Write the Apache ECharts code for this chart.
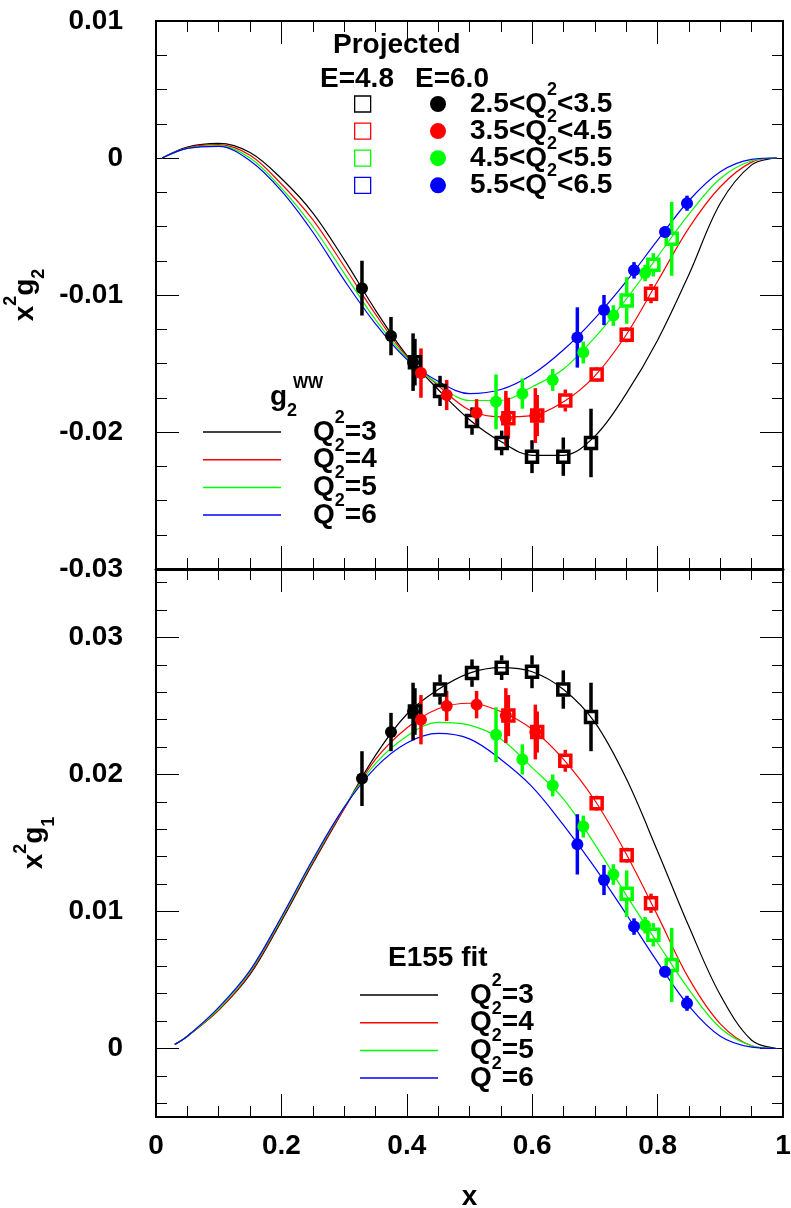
<!DOCTYPE html>
<html>
<head>
<meta charset="utf-8">
<script src="https://cdn.jsdelivr.net/npm/echarts@6/dist/echarts.min.js"></script>
<style>
html, body { margin: 0; padding: 0; background: #fff; }
#chart { width: 791px; height: 1208px; }
</style>
</head>
<body>
<div id="chart"></div>
<script>
// ---- curves: g2 Wandzura-Wilczek (top) ----
const xGridG2 = [0.01, 0.05, 0.1, 0.15, 0.2, 0.25, 0.3, 0.35, 0.4, 0.45, 0.5, 0.55, 0.6, 0.65, 0.7, 0.75, 0.8, 0.85, 0.9, 0.95, 0.99];
const g2wwQ3 = [0, 0.0008, 0.00107, 0.0004, -0.0015, -0.0040, -0.0074, -0.0111, -0.0144, -0.0169, -0.0191, -0.0207, -0.0217, -0.0217, -0.0203, -0.0172, -0.0133, -0.0085, -0.0033, -0.0005, 0];
const g2wwQ4 = [0, 0.00075, 0.00098, 0.0002, -0.0019, -0.0045, -0.0079, -0.0114, -0.0145, -0.0166, -0.0184, -0.0189, -0.0188, -0.0178, -0.0159, -0.0129, -0.0090, -0.0051, -0.0021, -0.0003, 0];
const g2wwQ5 = [0, 0.0007, 0.0009, 0.0000, -0.0022, -0.0050, -0.0084, -0.0118, -0.0146, -0.0165, -0.0177, -0.0177, -0.0167, -0.0154, -0.0131, -0.0103, -0.0072, -0.0041, -0.0015, -0.0002, 0];
const g2wwQ6 = [0, 0.0007, 0.00085, -0.0002, -0.0024, -0.0054, -0.0089, -0.0121, -0.0147, -0.0163, -0.0172, -0.0169, -0.0158, -0.0140, -0.0117, -0.0090, -0.0060, -0.0031, -0.0010, -0.0001, 0];

// ---- curves: E155 fit of g1 (bottom) ----
const xGridG1 = [0.03, 0.05, 0.1, 0.15, 0.2, 0.25, 0.3, 0.35, 0.4, 0.45, 0.5, 0.55, 0.6, 0.65, 0.7, 0.75, 0.8, 0.85, 0.9, 0.95, 0.99];
const g1fitQ3 = [0.0003, 0.0009, 0.0028, 0.0054, 0.0093, 0.0135, 0.0175, 0.0214, 0.0244, 0.0262, 0.0274, 0.0278, 0.0275, 0.0262, 0.0238, 0.0197, 0.0144, 0.0089, 0.0039, 0.0006, 0];
const g1fitQ4 = [0.0003, 0.0009, 0.0028, 0.0055, 0.0094, 0.0136, 0.0175, 0.0211, 0.0234, 0.0248, 0.0252, 0.0246, 0.0233, 0.0211, 0.0181, 0.0142, 0.0097, 0.0051, 0.0018, 0.0002, 0];
const g1fitQ5 = [0.0003, 0.0009, 0.0029, 0.0056, 0.0095, 0.0137, 0.0176, 0.0208, 0.0228, 0.0238, 0.0236, 0.0226, 0.0205, 0.0182, 0.0149, 0.0112, 0.0077, 0.0043, 0.0015, 0.0002, 0];
const g1fitQ6 = [0.0003, 0.0009, 0.0030, 0.0057, 0.0096, 0.0138, 0.0176, 0.0205, 0.0223, 0.0230, 0.0226, 0.0211, 0.0191, 0.0163, 0.0132, 0.0098, 0.0063, 0.0031, 0.0009, 0.0001, 0];

// ---- projected points, E=6.0 (circles) ----
const bin1CircX = [0.3285, 0.3748, 0.410];
const bin1CircG2 = [-0.0095, -0.0130, -0.0149];
const bin1CircG1 = [0.0197, 0.0231, 0.0246];
const bin1CircErr = [0.0020, 0.0014, 0.0021];
const bin2CircX = [0.4226, 0.4636, 0.5113, 0.558, 0.605];
const bin2CircG2 = [-0.0157, -0.0173, -0.0186, -0.0190, -0.0188];
const bin2CircG1 = [0.0240, 0.0250, 0.0251, 0.0243, 0.0231];
const bin2CircErr = [0.0018, 0.0011, 0.0010, 0.0020, 0.0020];
const bin3CircX = [0.5423, 0.5843, 0.6327, 0.6815, 0.7294, 0.78];
const bin3CircG2 = [-0.0178, -0.0172, -0.0162, -0.0142, -0.0115, -0.0084];
const bin3CircG1 = [0.0229, 0.0211, 0.0192, 0.0162, 0.0127, 0.0090];
const bin3CircErr = [0.0020, 0.0011, 0.0008, 0.0008, 0.00075, 0.0006];
const bin4CircX = [0.672, 0.7145, 0.7624, 0.8118, 0.8469];
const bin4CircG2 = [-0.0131, -0.0111, -0.0082, -0.0054, -0.0033];
const bin4CircG1 = [0.0149, 0.0123, 0.0089, 0.0056, 0.0033];
const bin4CircErr = [0.0022, 0.0011, 0.0006, 0.0004, 0.00055];

// ---- projected points, E=4.8 (open squares) ----
const bin1SqX = [0.413, 0.453, 0.504, 0.5513, 0.5997, 0.6496, 0.6938];
const bin1SqG2 = [-0.0149, -0.0170, -0.0192, -0.0208, -0.0218, -0.0218, -0.0208];
const bin1SqG1 = [0.0246, 0.0262, 0.0274, 0.0278, 0.0275, 0.0262, 0.0242];
const bin1SqErr = [0.0017, 0.0011, 0.0010, 0.0009, 0.0012, 0.0014, 0.0025];
const bin2SqX = [0.562, 0.608, 0.6528, 0.7028, 0.7507, 0.7895];
const bin2SqG2 = [-0.0190, -0.0188, -0.0177, -0.0158, -0.0129, -0.0099];
const bin2SqG1 = [0.0243, 0.0231, 0.0210, 0.0179, 0.0141, 0.0106];
const bin2SqErr = [0.0015, 0.0015, 0.0008, 0.00055, 0.00055, 0.0007];
const bin3SqX = [0.7507, 0.7932, 0.8225];
const bin3SqG2 = [-0.0104, -0.0078, -0.0059];
const bin3SqG1 = [0.0113, 0.0083, 0.0061];
const bin3SqErr = [0.0017, 0.00085, 0.0027];

// ---- ticks and legend labels ----
const xTickValues = [0, 0.2, 0.4, 0.6, 0.8, 1];
const g2TickValues = [-0.03, -0.02, -0.01, 0, 0.01];
const g1TickValues = [0, 0.01, 0.02, 0.03];
const g1MinorTickValues = [-0.004, -0.002, 0.002, 0.004, 0.006, 0.008, 0.012, 0.014, 0.016, 0.018, 0.022, 0.024, 0.026, 0.028, 0.032, 0.034];
const q2Low = [2.5, 3.5, 4.5, 5.5];
const q2High = [3.5, 4.5, 5.5, 6.5];
const q2Curves = [3, 4, 5, 6];

const FONT = 'Liberation Sans';
const COLORS = ['#000000', '#ff0000', '#00ff00', '#0000ff'];
const LH = 46; // tall line box so that superscripts can sit above the caps
const CLEAR = 'rgba(0,0,0,0)';

const bold = { fontFamily: FONT, fontWeight: 'bold', color: '#000' };
const rich = {
  t: Object.assign({ fontSize: 28, lineHeight: LH, verticalAlign: 'middle' }, bold),
  pc: Object.assign({ fontSize: 28, lineHeight: LH, verticalAlign: 'middle', padding: [0, 0, 0, 19] }, bold),
  pl: Object.assign({ fontSize: 28, lineHeight: LH, verticalAlign: 'middle', padding: [0, 0, 0, 27] }, bold),
  s: Object.assign({ fontSize: 18, verticalAlign: 'top' }, bold),
  b: Object.assign({ fontSize: 18, lineHeight: 24, verticalAlign: 'bottom' }, bold)
};
// invisible copies, used to give the square-key legend the same row height
rich.ti = Object.assign({}, rich.t, { color: CLEAR });
rich.si = Object.assign({}, rich.s, { color: CLEAR });

const fmt = (v) => String(Math.round(v * 1000) / 1000);
const pairs = (xs, ys) => xs.map((x, i) => [x, ys[i]]);
const triples = (xs, ys, es) => xs.map((x, i) => [x, ys[i], es[i]]);

const tickStyle = { color: '#000', width: 1 };

function xAxis(gridIndex, position, withLabels) {
  return {
    type: 'value', gridIndex, position, min: 0, max: 1, interval: 0.2,
    axisLine: { show: gridIndex === 0 && position === 'bottom', onZero: false, lineStyle: { color: '#000', width: 3 } },
    axisTick: { show: true, inside: true, length: 23, lineStyle: tickStyle },
    minorTick: { show: true, splitNumber: 4, length: 11, lineStyle: tickStyle },
    splitLine: { show: false },
    axisLabel: withLabels ? Object.assign({
      show: true, customValues: xTickValues, formatter: fmt, margin: 14, fontSize: 28, lineHeight: 30
    }, bold) : { show: false },
    name: withLabels ? 'x' : '',
    nameLocation: 'middle', nameGap: 63,
    nameTextStyle: Object.assign({ fontSize: 28, lineHeight: 34 }, bold)
  };
}

const yLabel = Object.assign({ fontSize: 28, margin: 33 }, bold);

function yAxis(gridIndex, position, min, max, extra) {
  return Object.assign({
    type: 'value', gridIndex, position, min, max,
    axisLine: { show: false, onZero: false },
    splitLine: { show: false },
    axisLabel: { show: false }
  }, extra);
}

const yAxes = [
  yAxis(0, 'left', -0.03, 0.01, { // 0
    interval: 0.01,
    axisTick: { show: true, inside: true, length: 23, lineStyle: tickStyle },
    minorTick: { show: true, splitNumber: 4, length: 11, lineStyle: tickStyle },
    axisLabel: Object.assign({ customValues: g2TickValues, formatter: fmt }, yLabel),
    name: '{t|x}{s|2}{t|g}{b|2}', nameLocation: 'middle', nameGap: 97,
    nameTextStyle: { rich }
  }),
  yAxis(0, 'right', -0.03, 0.01, { // 1
    interval: 0.01,
    axisTick: { show: true, inside: true, length: 23, lineStyle: tickStyle },
    minorTick: { show: true, splitNumber: 4, length: 11, lineStyle: tickStyle }
  }),
  yAxis(1, 'left', -0.005, 0.035, { // 2
    axisTick: { show: true, inside: true, length: 23, customValues: g1TickValues, lineStyle: tickStyle },
    axisLabel: Object.assign({ customValues: g1TickValues, formatter: fmt }, yLabel),
    name: '{t|x}{s|2}{t|g}{b|1}', nameLocation: 'middle', nameGap: 97,
    nameTextStyle: { rich }
  }),
  yAxis(1, 'left', -0.005, 0.035, { // 3
    axisTick: { show: true, inside: true, length: 11, customValues: g1MinorTickValues, lineStyle: tickStyle }
  }),
  yAxis(1, 'right', -0.005, 0.035, { // 4
    axisTick: { show: true, inside: true, length: 23, customValues: g1TickValues, lineStyle: tickStyle }
  }),
  yAxis(1, 'right', -0.005, 0.035, { // 5
    axisTick: { show: true, inside: true, length: 11, customValues: g1MinorTickValues, lineStyle: tickStyle }
  })
];

function curve(name, xs, ys, k, gridIndex) {
  return {
    name, type: 'line', xAxisIndex: gridIndex === 0 ? 0 : 2, yAxisIndex: gridIndex === 0 ? 0 : 2,
    data: pairs(xs, ys), smooth: 0.35, symbol: 'none', showSymbol: false, silent: true, z: 2,
    lineStyle: { color: COLORS[k], width: 1.2 }, itemStyle: { color: COLORS[k] }
  };
}

function errorBars(xs, ys, es, k, gridIndex, gap) {
  return {
    type: 'custom', xAxisIndex: gridIndex === 0 ? 0 : 2, yAxisIndex: gridIndex === 0 ? 0 : 2,
    data: triples(xs, ys, es), encode: { x: 0, y: 1 }, silent: true, z: 3,
    itemStyle: { color: COLORS[k] },
    renderItem(params, api) {
      const x = api.value(0), y = api.value(1), e = api.value(2);
      const hi = api.coord([x, y + e]);
      const lo = api.coord([x, y - e]);
      const c = api.coord([x, y]);
      const style = { stroke: COLORS[k], lineWidth: 3.5 };
      const children = [];
      if (c[1] - gap > hi[1]) children.push({ type: 'line', shape: { x1: c[0], y1: hi[1], x2: c[0], y2: c[1] - gap }, style });
      if (lo[1] > c[1] + gap) children.push({ type: 'line', shape: { x1: c[0], y1: c[1] + gap, x2: c[0], y2: lo[1] }, style });
      return { type: 'group', children };
    }
  };
}

function circles(xs, ys, k, gridIndex) {
  return {
    name: 'c' + k, type: 'scatter', xAxisIndex: gridIndex === 0 ? 0 : 2, yAxisIndex: gridIndex === 0 ? 0 : 2,
    data: pairs(xs, ys), symbol: 'circle', symbolSize: 12, silent: true, z: 4,
    itemStyle: { color: COLORS[k], opacity: 1 }
  };
}

function squares(xs, ys, k, gridIndex) {
  return {
    name: 's' + k, type: 'scatter', xAxisIndex: gridIndex === 0 ? 0 : 2, yAxisIndex: gridIndex === 0 ? 0 : 2,
    data: pairs(xs, ys), symbol: 'rect', symbolSize: 11, silent: true, z: 4,
    itemStyle: { color: CLEAR, borderColor: COLORS[k], borderWidth: 3.5, opacity: 1 }
  };
}

const circSets = [
  [bin1CircX, bin1CircG2, bin1CircG1, bin1CircErr],
  [bin2CircX, bin2CircG2, bin2CircG1, bin2CircErr],
  [bin3CircX, bin3CircG2, bin3CircG1, bin3CircErr],
  [bin4CircX, bin4CircG2, bin4CircG1, bin4CircErr]
];
const sqSets = [
  [bin1SqX, bin1SqG2, bin1SqG1, bin1SqErr],
  [bin2SqX, bin2SqG2, bin2SqG1, bin2SqErr],
  [bin3SqX, bin3SqG2, bin3SqG1, bin3SqErr],
  [[], [], [], []]
];
const g2Curves = [g2wwQ3, g2wwQ4, g2wwQ5, g2wwQ6];
const g1Curves = [g1fitQ3, g1fitQ4, g1fitQ5, g1fitQ6];

const series = [];
g2Curves.forEach((ys, k) => series.push(curve('w' + k, xGridG2, ys, k, 0)));
g1Curves.forEach((ys, k) => series.push(curve('f' + k, xGridG1, ys, k, 1)));
sqSets.forEach(([xs, y2, y1, es], k) => {
  series.push(errorBars(xs, y2, es, k, 0, 7));
  series.push(errorBars(xs, y1, es, k, 1, 7));
  series.push(squares(xs, y2, k, 0));
  series.push(squares(xs, y1, k, 1));
});
circSets.forEach(([xs, y2, y1, es], k) => {
  series.push(errorBars(xs, y2, es, k, 0, 0));
  series.push(errorBars(xs, y1, es, k, 1, 0));
  series.push(circles(xs, y2, k, 0));
  series.push(circles(xs, y1, k, 1));
});

const legendBase = {
  orient: 'vertical', padding: 0, selectedMode: false, textStyle: { rich }
};
const plainTitle = Object.assign({ fontSize: 28, lineHeight: 34 }, bold);
const binLabel = (k, first, sup, rest) =>
  '{' + first + '|' + q2Low[k].toFixed(1) + '<Q}{' + sup + '|2}{' + rest + '|<' + q2High[k].toFixed(1) + '}';
const curveLabel = (name) => '{pl|Q}{s|2}{t|=' + q2Curves[+name.slice(1)] + '}';
const rowGap = (pitch) => pitch - (0.5 * LH + 13.6);

const option = {
  animation: false,
  backgroundColor: '#fff',
  grid: [
    { left: 156, top: 21, width: 627, height: 548, show: true, borderColor: '#000', borderWidth: 2, containLabel: false, outerBoundsMode: 'none' },
    { left: 156, top: 569, width: 627, height: 548, show: true, borderColor: '#000', borderWidth: 2, containLabel: false, outerBoundsMode: 'none' }
  ],
  xAxis: [xAxis(0, 'bottom', false), xAxis(0, 'top', false), xAxis(1, 'bottom', true), xAxis(1, 'top', false)],
  yAxis: yAxes,
  title: [
    { text: 'Projected', left: 333, top: 28, padding: 0, textStyle: plainTitle },
    { text: 'E=4.8', left: 320, top: 62, padding: 0, textStyle: plainTitle },
    { text: 'E=6.0', left: 415, top: 62, padding: 0, textStyle: plainTitle },
    { text: '{t|g}{b|2}', left: 270, top: 397 - LH / 2, padding: 0, textStyle: { rich } },
    { text: 'WW', left: 293, top: 374, padding: 0, textStyle: Object.assign({ fontSize: 16, lineHeight: 20 }, bold) },
    { text: 'E155 fit', left: 388, top: 941, padding: 0, textStyle: plainTitle }
  ],
  legend: [
    Object.assign({}, legendBase, {
      left: 354, top: 104 - LH / 2, itemGap: rowGap(26.7), itemWidth: 16, itemHeight: 16, icon: 'rect',
      data: ['s0', 's1', 's2', 's3'],
      formatter: (name) => binLabel(+name.slice(1), 'ti', 'si', 'ti'),
      itemStyle: { color: CLEAR, borderWidth: 1.3, opacity: 1 }
    }),
    Object.assign({}, legendBase, {
      left: 430, top: 104 - LH / 2, itemGap: rowGap(26.7), itemWidth: 16, itemHeight: 16, icon: 'circle',
      data: ['c0', 'c1', 'c2', 'c3'],
      formatter: (name) => binLabel(+name.slice(1), 'pc', 's', 't'),
      itemStyle: { borderWidth: 0, opacity: 1 }
    }),
    Object.assign({}, legendBase, {
      left: 203, top: 432 - LH / 2, itemGap: rowGap(27.3), itemWidth: 78, itemHeight: 1.5, icon: 'rect',
      data: ['w0', 'w1', 'w2', 'w3'], formatter: curveLabel
    }),
    Object.assign({}, legendBase, {
      left: 360, top: 995 - LH / 2, itemGap: rowGap(27.3), itemWidth: 78, itemHeight: 1.5, icon: 'rect',
      data: ['f0', 'f1', 'f2', 'f3'], formatter: curveLabel
    })
  ],
  series
};

const chart = echarts.init(document.getElementById('chart'));
chart.setOption(option);
</script>
</body>
</html>
